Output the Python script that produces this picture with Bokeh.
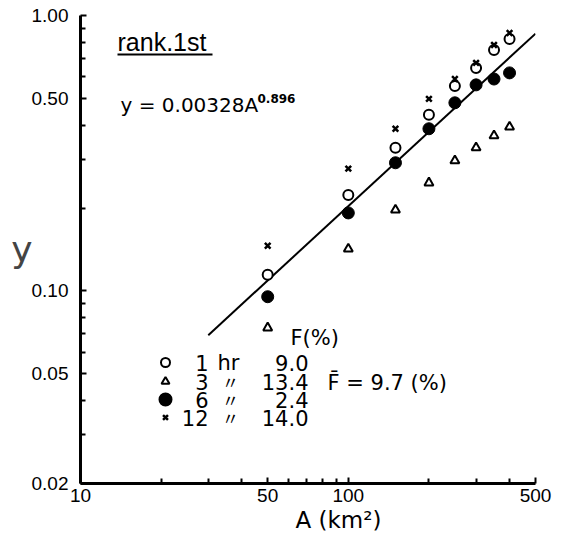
import math
from bokeh.plotting import figure
from bokeh.models import FixedTicker, Label, Range1d, Title
from bokeh.embed import file_html
from bokeh.resources import INLINE

# ---------------- data ----------------
area = [50, 100, 150, 200, 250, 300, 350, 400]          # A (km2)
y_1hr = [0.1145, 0.223, 0.331, 0.436, 0.555, 0.645, 0.750, 0.822]
y_3hr = [0.0735, 0.142, 0.197, 0.247, 0.297, 0.331, 0.366, 0.394]
y_6hr = [0.0953, 0.192, 0.292, 0.388, 0.482, 0.560, 0.588, 0.619]
y_12hr = [0.146, 0.278, 0.388, 0.498, 0.588, 0.673, 0.782, 0.864]

fit_a = 0.00328
fit_b = 0.896
fit_area = [30, 500]

x_ticks = [10, 50, 100, 500]
x_minor = [20, 30, 40, 60, 70, 80, 90, 200, 300, 400]
y_ticks = [0.02, 0.05, 0.1, 0.5, 1.0]
y_tick_labels = ["0.02", "0.05", "0.10", "0.50", "1.00"]
y_minor = [0.03, 0.04, 0.06, 0.07, 0.08, 0.09, 0.2, 0.3, 0.4, 0.6, 0.7, 0.8, 0.9]

legend_hours = ["1", "3", "6", "12"]
legend_unit = ["hr", "\u3003", "\u3003", "\u3003"]
legend_F = ["9.0", "13.4", "2.4", "14.0"]
F_mean = "9.7"

# ---------------- layout ----------------
W, H = 555, 540
BL, BR, BT, BB = 80, 20, 15, 57
FW = W - BL - BR
FH = H - BT - BB
X0, X1 = 10, 500
Y0, Y1 = 0.02, 1.0

FONT = "Liberation Sans"
TFONT = "DejaVu Sans"

p = figure(width=W, height=H, x_axis_type="log", y_axis_type="log",
           x_range=Range1d(X0, X1), y_range=Range1d(Y0, Y1),
           output_backend="svg", toolbar_location=None,
           min_border_left=BL, min_border_right=BR,
           min_border_top=BT, min_border_bottom=BB)
p.background_fill_color = "white"
p.border_fill_color = "white"
p.outline_line_color = None
p.xgrid.visible = False
p.ygrid.visible = False

# picture-pixel -> data helpers (for placing annotation text only)
px_per_dec_x = FW / math.log10(X1 / X0)
px_per_dec_y = FH / math.log10(Y1 / Y0)


def ax(px):
    return 10 ** (math.log10(X0) + (px - BL) / px_per_dec_x)


def ay(py):
    return 10 ** (math.log10(Y1) - (py - BT) / px_per_dec_y)


for axis in (p.xaxis[0], p.yaxis[0]):
    axis.axis_line_width = 3
    axis.axis_line_color = "black"
    axis.major_tick_in = 6
    axis.major_tick_out = 0
    axis.minor_tick_in = 5
    axis.minor_tick_out = 0
    axis.major_tick_line_width = 2
    axis.minor_tick_line_width = 2
    axis.major_label_text_font = FONT
    axis.major_label_text_font_size = "19px"
    axis.major_label_text_color = "black"

p.xaxis[0].ticker = FixedTicker(ticks=x_ticks, minor_ticks=x_minor)
p.xaxis[0].major_label_overrides = {t: str(t) for t in x_ticks}
p.xaxis[0].major_label_standoff = 5
p.yaxis[0].ticker = FixedTicker(ticks=y_ticks, minor_ticks=y_minor)
p.yaxis[0].major_label_overrides = dict(zip(y_ticks, y_tick_labels))
p.yaxis[0].major_label_standoff = 12

# y axis label (horizontal)
p.yaxis[0].axis_label = "y"
p.yaxis[0].axis_label_text_font = TFONT
p.yaxis[0].axis_label_text_font_size = "36px"
p.yaxis[0].axis_label_text_font_style = "normal"
p.yaxis[0].axis_label_standoff = -4
try:
    p.yaxis[0].axis_label_orientation = "horizontal"
except Exception:
    pass

# x axis label, shifted right of centre as in the original
p.add_layout(Title(text="A (km\u00b2)", align="left", offset=215, standoff=0,
                   text_font=TFONT, text_font_size="23px",
                   text_font_style="normal", text_color="black"), "below")

# ---------------- fitted line ----------------
fit_y = [fit_a * a ** fit_b for a in fit_area]
p.line(fit_area, fit_y, line_color="black", line_width=2)

# ---------------- data points ----------------
p.scatter(area, y_3hr, marker="triangle", size=9, fill_color="white",
          line_color="black", line_width=2)
p.scatter(area, y_6hr, marker="circle", size=12, fill_color="black",
          line_color="black", line_width=1)
p.scatter(area, y_1hr, marker="circle", size=10, fill_color="white",
          line_color="black", line_width=2)
p.scatter(area, y_12hr, marker="x", size=8, line_color="black", line_width=2.5)

# ---------------- texts inside the frame ----------------
def lab(text, px, py, size, align="left", font=TFONT, style="normal", baseline="middle"):
    p.add_layout(Label(x=ax(px), y=ay(py), text=text, text_font=font,
                       text_font_size=size, text_align=align,
                       text_baseline=baseline, text_font_style=style,
                       text_color="black"))


lab("rank.1st", 117, 41, "25px", font=FONT)
p.segment(x0=[ax(117)], y0=[ay(54)], x1=[ax(212)], y1=[ay(54)],
          line_color="black", line_width=2)

lab("y = 0.00328A", 120, 104, "20px")
lab("%.3f" % fit_b, 257, 98, "12px", style="bold")

# legend block
lab("F(%)", 290, 337, "21px")
row_y = [362, 381, 399, 417]
leg_marker = ["circle", "triangle", "circle", "x"]
leg_fill = ["white", "white", "black", None]
leg_size = [9, 8, 12, 7]
for i in range(4):
    yy = ay(row_y[i])
    xx = ax(165)
    if leg_marker[i] == "x":
        p.scatter([xx], [yy], marker="x", size=leg_size[i], line_color="black", line_width=2.5)
    else:
        p.scatter([xx], [yy], marker=leg_marker[i], size=leg_size[i],
                  fill_color=leg_fill[i], line_color="black", line_width=2)
    lab(legend_hours[i], 208, row_y[i], "21px", align="right")
    if i == 0:
        lab(legend_unit[i], 217, row_y[i], "21px")
    else:
        lab(legend_unit[i], 230, row_y[i], "17px", align="center", font="Noto Sans CJK JP")
    lab(legend_F[i], 308, row_y[i], "21px", align="right")

lab("F\u0304 = " + F_mean + " (%)", 327, 382, "21px")

open("out.html", "w").write(file_html(p, INLINE))
